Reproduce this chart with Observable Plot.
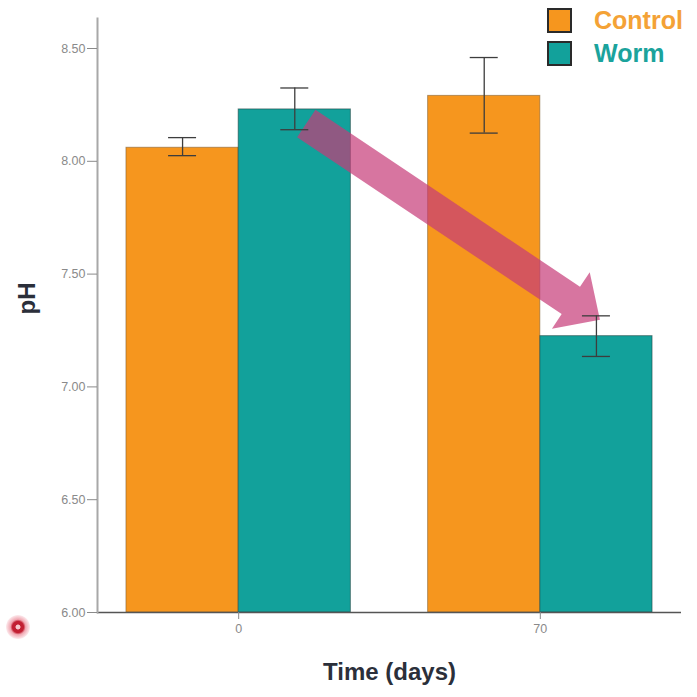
<!DOCTYPE html>
<html><head><meta charset="utf-8">
<script src="https://cdn.jsdelivr.net/npm/d3@7"></script>
<script src="https://cdn.jsdelivr.net/npm/@observablehq/plot@0.6"></script>
<style>
html,body{margin:0;padding:0;background:#fff;}
#wrap{position:relative;width:697px;height:697px;font-family:"Liberation Sans",Arial,sans-serif;}
.legend{position:absolute;left:547px;top:7px;}
.item{display:flex;align-items:center;height:26px;margin-bottom:7px;}
.sw{width:21px;height:21px;border:2.5px solid #2a2a2a;margin-right:22px;box-sizing:content-box;}
.lab{font-weight:bold;font-size:25px;line-height:26px;}
.dot{position:absolute;left:6px;top:615px;width:24px;height:24px;border-radius:50%;
 background:radial-gradient(circle,#f6c8cd 0 12%,#c21f32 17% 33%,rgba(225,80,100,0.5) 45%,rgba(255,200,210,0.15) 75%,rgba(255,220,225,0) 100%);}
</style></head><body><div id="wrap"></div>
<script>
// ---- data ----
const times = ["0", "70"];
const groups = ["Control", "Worm"];
const colors = ["#F6961E", "#12A19B"];
const controlMean = [8.06, 8.29];
const controlLow = [8.025, 8.125];
const controlHigh = [8.105, 8.46];
const wormMean = [8.23, 7.225];
const wormLow = [8.14, 7.135];
const wormHigh = [8.325, 7.315];
const yTicks = [6.0, 6.5, 7.0, 7.5, 8.0, 8.5];
const arrowFrom = {time: "0", group: "Worm", pH: 8.165};
const arrowTo = {time: "70", group: "Worm", pH: 7.295};

const controlRows = times.map((t, i) => ({time: t, group: "Control", mean: controlMean[i], lo: controlLow[i], hi: controlHigh[i]}));
const wormRows = times.map((t, i) => ({time: t, group: "Worm", mean: wormMean[i], lo: wormLow[i], hi: wormHigh[i]}));

// ---- layout ----
const W = 697, H = 697, mL = 97, mR = 16, mT = 18, mB = 85;
const pInner = 0.256, pOuter = 0.096;
const bw = d3.scaleBand().domain(times).range([mL, W - mR]).paddingInner(pInner).paddingOuter(pOuter).bandwidth();
const half = bw / 2, q = bw / 4, cap = 14;

function arrowMark(index, scales) {
  const x = scales.x, y = scales.y;
  const b = x.bandwidth();
  const off = g => g === "Worm" ? 3 * b / 4 : b / 4;
  const T = [x(arrowFrom.time) + off(arrowFrom.group) + 12, y(arrowFrom.pH)];
  const P = [x(arrowTo.time) + off(arrowTo.group) + 4, y(arrowTo.pH)];
  const len = Math.hypot(P[0] - T[0], P[1] - T[1]);
  const u = [(P[0] - T[0]) / len, (P[1] - T[1]) / len];
  const n = [-u[1], u[0]];
  const w = 33, hw = 68, hl = 35;
  const B = [P[0] - u[0] * hl, P[1] - u[1] * hl];
  const pt = (p, k) => [p[0] + n[0] * k, p[1] + n[1] * k];
  const pts = [pt(T, w / 2), pt(B, w / 2), pt(B, hw / 2), P, pt(B, -hw / 2), pt(B, -w / 2), pt(T, -w / 2)];
  const poly = document.createElementNS("http://www.w3.org/2000/svg", "polygon");
  poly.setAttribute("points", pts.map(p => p.join(",")).join(" "));
  poly.setAttribute("fill", "#C63A78");
  poly.setAttribute("fill-opacity", "0.7");
  return poly;
}

const chart = Plot.plot({
  width: W, height: H,
  marginLeft: mL, marginRight: mR, marginTop: mT, marginBottom: mB,
  style: {fontFamily: "Liberation Sans, Arial, sans-serif", background: "#fff"},
  x: {domain: times, paddingInner: pInner, paddingOuter: pOuter, round: false},
  y: {domain: [6, 8.633]},
  color: {domain: groups, range: colors},
  marks: [
    Plot.barY(controlRows, {x: "time", y1: 6, y2: "mean", fill: "group", insetRight: half, stroke: "#7a5a30", strokeOpacity: 0.55, strokeWidth: 1}),
    Plot.barY(wormRows, {x: "time", y1: 6, y2: "mean", fill: "group", insetLeft: half, stroke: "#1f3c3a", strokeOpacity: 0.55, strokeWidth: 1}),
    arrowMark,
    Plot.ruleX(controlRows, {x: "time", y1: "lo", y2: "hi", dx: -q, stroke: "#3d3d3d", strokeWidth: 1.3}),
    Plot.ruleX(wormRows, {x: "time", y1: "lo", y2: "hi", dx: q, stroke: "#3d3d3d", strokeWidth: 1.3}),
    Plot.tickY(controlRows, {x: "time", y: "lo", insetLeft: q - cap, insetRight: bw - q - cap, stroke: "#3d3d3d", strokeWidth: 1.3}),
    Plot.tickY(controlRows, {x: "time", y: "hi", insetLeft: q - cap, insetRight: bw - q - cap, stroke: "#3d3d3d", strokeWidth: 1.3}),
    Plot.tickY(wormRows, {x: "time", y: "lo", insetLeft: 3 * q - cap, insetRight: q - cap, stroke: "#3d3d3d", strokeWidth: 1.3}),
    Plot.tickY(wormRows, {x: "time", y: "hi", insetLeft: 3 * q - cap, insetRight: q - cap, stroke: "#3d3d3d", strokeWidth: 1.3}),
    Plot.ruleY([6], {stroke: "#555", strokeWidth: 1.5}),
    Plot.frame({anchor: "left", stroke: "#a8a8a8", strokeWidth: 2}),
    Plot.axisY(yTicks, {tickFormat: d3.format(".2f"), tickSize: 10, tickPadding: 2, fontSize: 12.5, color: "#8a8a8a", label: null}),
    Plot.axisX({tickSize: 7, tickPadding: 5, fontSize: 12.5, color: "#8a8a8a", label: null}),
    Plot.text(["Time (days)"], {text: d => d, frameAnchor: "bottom", textAnchor: "middle", lineAnchor: "middle", dy: 60, fontSize: 24, fontWeight: "bold", fill: "#2b2f3a"}),
    Plot.text(["pH"], {text: d => d, frameAnchor: "left", textAnchor: "middle", lineAnchor: "middle", rotate: -90, dx: -70, dy: -17, fontSize: 24, fontWeight: "bold", fill: "#2b2f3a"})
  ]
});

const wrap = document.getElementById("wrap");
wrap.appendChild(chart);
const legend = document.createElement("div");
legend.className = "legend";
const labelColors = ["#F4A236", "#1BA39C"];
groups.forEach((g, i) => {
  const it = document.createElement("div"); it.className = "item";
  const sw = document.createElement("div"); sw.className = "sw"; sw.style.background = colors[i];
  const lb = document.createElement("div"); lb.className = "lab"; lb.textContent = g; lb.style.color = labelColors[i];
  it.appendChild(sw); it.appendChild(lb); legend.appendChild(it);
});
wrap.appendChild(legend);
const dot = document.createElement("div"); dot.className = "dot"; wrap.appendChild(dot);
</script>
</body></html>
